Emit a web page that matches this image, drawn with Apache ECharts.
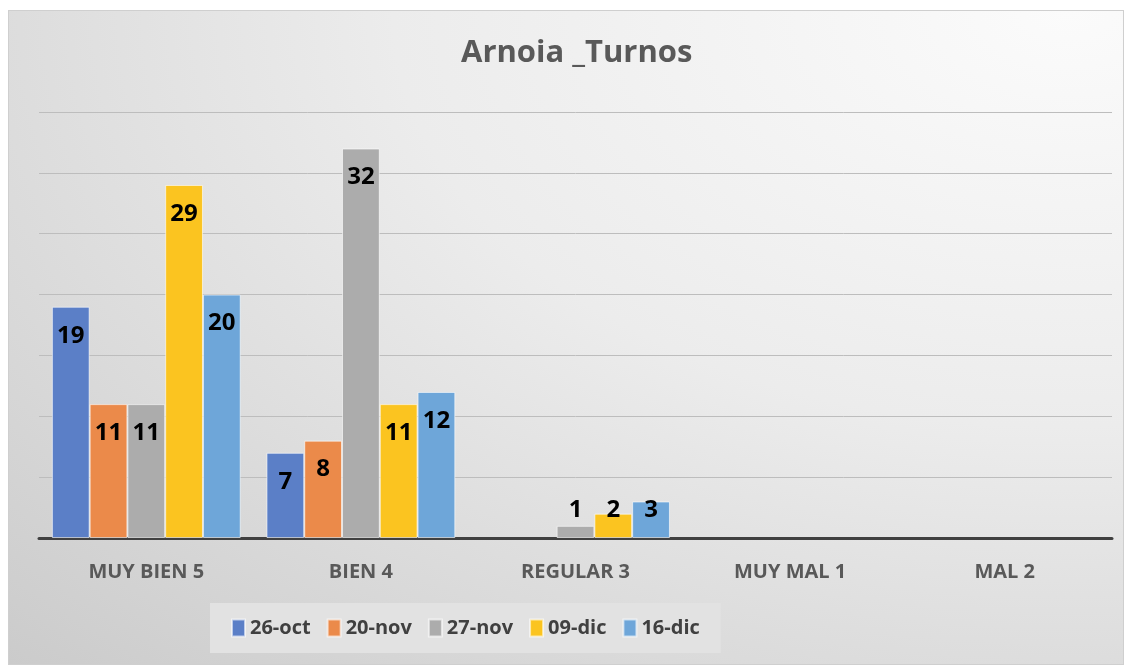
<!DOCTYPE html>
<html>
<head>
<meta charset="utf-8">
<script src="https://cdn.jsdelivr.net/npm/echarts@6/dist/echarts.min.js"></script>
<style>
  html, body { margin: 0; padding: 0; background: #fff; }
  #main {
    position: absolute; left: 8px; top: 10px; width: 1116px; height: 655px;
    border: 1px solid #cfcfcf; box-sizing: border-box;
    background: radial-gradient(ellipse at 95% 0%, #fbfbfb 0%, #ececec 45%, #cbcbcb 100%);
  }
</style>
</head>
<body>
<div id="main"></div>
<script>
// datos del gráfico
const categorias = ['MUY BIEN 5', 'BIEN 4', 'REGULAR 3', 'MUY MAL 1', 'MAL 2'];
const fechas = ['26-oct', '20-nov', '27-nov', '09-dic', '16-dic'];
const oct26 = [19, 7, null, null, null];
const nov20 = [11, 8, null, null, null];
const nov27 = [11, 32, 1, null, null];
const dic09 = [29, 11, 2, null, null];
const dic16 = [20, 12, 3, null, null];
const colores = ['#5B7FC7', '#EB8A4A', '#ACACAC', '#FBC420', '#6EA6D9'];

const valores = [oct26, nov20, nov27, dic09, dic16];

const chart = echarts.init(document.getElementById('main'));

// etiquetas: dentro arriba, y para barras pequeñas abajo
const datosSerie = (arr) => arr.map(v => {
  if (v == null) return null;
  if (v <= 3) return { value: v, label: { position: 'insideBottom', distance: 16 } };
  return v;
});

const option = {
  title: {
    text: 'Arnoia _Turnos',
    left: 452,
    top: 27,
    padding: 0,
    textStyle: { fontFamily: 'Open Sans', fontWeight: 'bold', fontSize: 31, color: '#595959' }
  },
  legend: {
    data: fechas,
    left: 201,
    top: 592,
    padding: [15, 21],
    backgroundColor: '#e2e2e2',
    itemWidth: 13,
    itemHeight: 17,
    itemGap: 16,
    icon: 'rect',
    textStyle: { fontFamily: 'Open Sans', fontWeight: 'bold', fontSize: 20, color: '#404040' }
  },
  grid: { left: 30, right: 11, top: 101, bottom: 126 },
  xAxis: {
    type: 'category',
    data: categorias,
    axisLine: { lineStyle: { color: '#404040', width: 3 } },
    axisTick: { show: false },
    axisLabel: { fontFamily: 'Open Sans', fontWeight: 'bold', fontSize: 20, color: '#595959', margin: 24 }
  },
  yAxis: {
    type: 'value',
    min: 0,
    max: 35,
    interval: 5,
    axisLabel: { show: false },
    axisLine: { show: false },
    splitLine: { lineStyle: { color: '#bdbdbd', width: 1 } }
  },
  series: fechas.map((f, i) => ({
    name: f,
    type: 'bar',
    data: datosSerie(valores[i]),
    barGap: '0%',
    barCategoryGap: '12%',
    itemStyle: { color: colores[i], borderColor: 'rgba(255,255,255,0.6)', borderWidth: 1 },
    label: {
      show: true,
      position: 'insideTop',
      distance: 17,
      fontFamily: 'Open Sans',
      fontWeight: 'bold',
      fontSize: 24,
      color: '#000'
    }
  }))
};

option && chart.setOption(option);
</script>
</body>
</html>
